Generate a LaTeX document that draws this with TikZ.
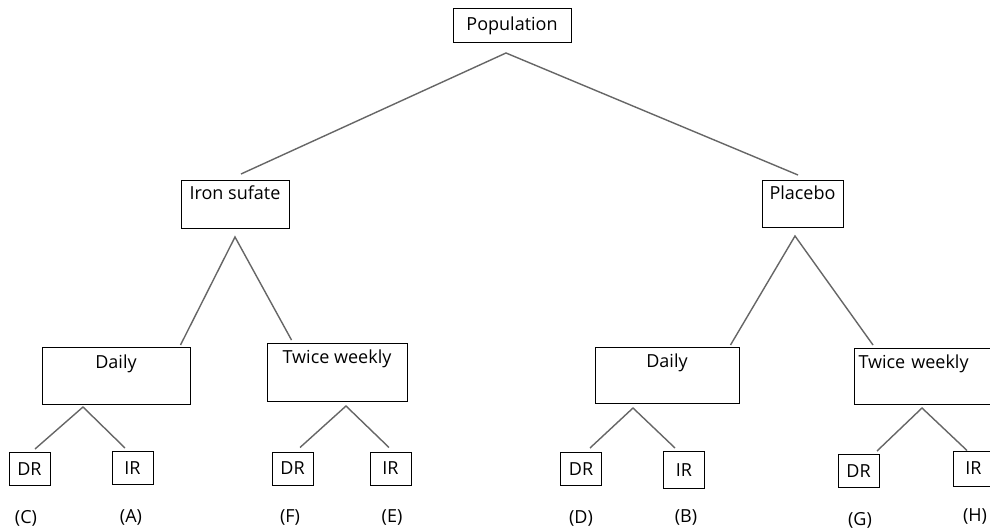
\documentclass[tikz,border=0pt]{standalone}
\usepackage{fontspec}
\setmainfont{Open Sans}

\begin{document}
\begin{tikzpicture}[x=1pt, y=-1pt, every node/.style={font=\fontsize{18}{21}\selectfont},
	box/.style={draw, line width=1pt, inner sep=0pt},
	group/.style={box, anchor=north},
	leaf/.style={box, minimum width=41pt, minimum height=33pt},
	tag/.style={inner sep=0pt},
	link/.style={draw=black!60, line width=1.4pt},]
\useasboundingbox[fill=white] (0,0) rectangle (990,529);
\node[box, minimum width=118pt, minimum height=34pt] (pop) at (512,26) {Population};
\node[group, minimum width=108pt, text height=19pt, text depth=29pt] (iron) at (235,180) {Iron sufate};
\node[group, minimum width=81pt, text height=19pt, text depth=28pt] (plac) at (802.5,180) {Placebo};
\node[group, minimum width=148pt, text height=21pt, text depth=36pt] (idaily) at (116,347) {Daily};
\node[group, minimum width=140pt, text height=20pt, text depth=38pt] (iweekly) at (337,343) {Twice weekly};
\node[group, minimum width=144pt, text height=20pt, text depth=36pt] (pdaily) at (667,347) {Daily};
\node[box, anchor=north west, inner xsep=4pt, text width=142pt, align=left, text height=20pt, text depth=36pt] (pweekly) at (854,348) {Twice weekly};
\node[leaf] (c) at (29.5,469) {DR};
\node[leaf] (a) at (132.5,468) {IR};
\node[leaf] (f) at (292.5,468.5) {DR};
\node[leaf] (e) at (390.5,468.5) {IR};
\node[leaf] (d) at (581,469) {DR};
\node[leaf, minimum height=37pt] (b) at (684,470) {IR};
\node[leaf] (g) at (858.5,471) {DR};
\node[leaf, minimum height=35pt] (h) at (973.5,468.5) {IR};
\node[tag] (labc) at (26,518) {(C)};
\node[tag] (laba) at (131,517) {(A)};
\node[tag] (labf) at (290,517) {(F)};
\node[tag] (labe) at (392,517) {(E)};
\node[tag] (labd) at (581,518) {(D)};
\node[tag] (labb) at (686,517) {(B)};
\node[tag] (labg) at (860,520) {(G)};
\node[tag] (labh) at (975,516) {(H)};
\coordinate (popv) at (506,53);
\coordinate (ironv) at (235,237);
\coordinate (placv) at (795,236);
\coordinate (idailyv) at (83,407);
\coordinate (iweeklyv) at (346,406);
\coordinate (pdailyv) at (633,408);
\coordinate (pweeklyv) at (922,408);
\draw[link] ([xshift=6pt,yshift=6pt]iron.north) -- (popv) -- ([xshift=-4.5pt,yshift=5pt]plac.north);
\draw[link] ([xshift=-10pt,yshift=2pt]idaily.north east) -- (ironv) -- ([xshift=25pt,yshift=3pt]iweekly.north west);
\draw[link] ([xshift=-9pt,yshift=2pt]pdaily.north east) -- (placv) -- ([xshift=19pt,yshift=3pt]pweekly.north west);
\draw[link] ([xshift=5.5pt,yshift=3pt]c.north) -- (idailyv) -- ([xshift=-7.5pt,yshift=3pt]a.north);
\draw[link] ([xshift=7.5pt,yshift=4pt]f.north) -- (iweeklyv) -- ([xshift=-1.5pt,yshift=4pt]e.north);
\draw[link] ([xshift=9pt,yshift=4pt]d.north) -- (pdailyv) -- ([xshift=-9pt,yshift=3pt]b.north);
\draw[link] ([xshift=18.5pt,yshift=3pt]g.north) -- (pweeklyv) -- ([xshift=-6.5pt]h.north);
\end{tikzpicture}
\end{document}
